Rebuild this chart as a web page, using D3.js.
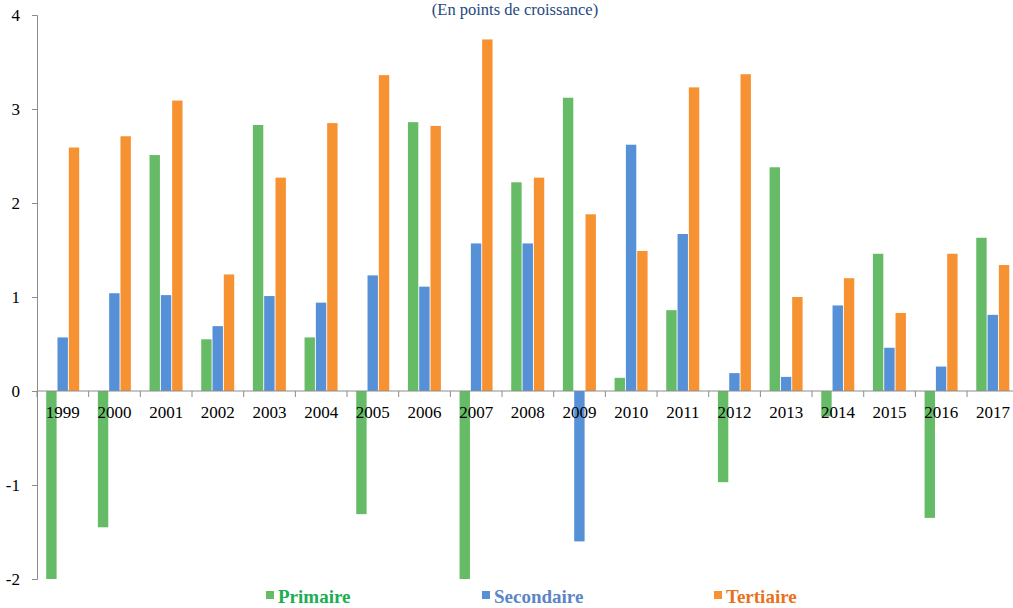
<!DOCTYPE html>
<html>
<head>
<meta charset="utf-8">
<script src="https://cdn.jsdelivr.net/npm/d3@7"></script>
<style>
  html, body { margin: 0; padding: 0; background: #fff; }
  svg { display: block; }
</style>
</head>
<body>
<svg id="chart" width="1013" height="608"></svg>
<script>
// Contributions à la croissance par secteur, 1999–2017
const years = ["1999","2000","2001","2002","2003","2004","2005","2006","2007","2008",
               "2009","2010","2011","2012","2013","2014","2015","2016","2017"];
const primaire   = [-2.0, -1.45, 2.51, 0.55, 2.83, 0.57, -1.31, 2.86, -2.0, 2.22,
                    3.12, 0.14, 0.86, -0.97, 2.38, -0.27, 1.46, -1.35, 1.63];
const secondaire = [0.57, 1.04, 1.02, 0.69, 1.01, 0.94, 1.23, 1.11, 1.57, 1.57,
                    -1.60, 2.62, 1.67, 0.19, 0.15, 0.91, 0.46, 0.26, 0.81];
const tertiaire  = [2.59, 2.71, 3.09, 1.24, 2.27, 2.85, 3.36, 2.82, 3.74, 2.27,
                    1.88, 1.49, 3.23, 3.37, 1.00, 1.20, 0.83, 1.46, 1.34];
const seriesNames = ["Primaire", "Secondaire", "Tertiaire"];
const yTicks = [-2, -1, 0, 1, 2, 3, 4];

const barColors  = { Primaire: "#66bb66", Secondaire: "#5690d6", Tertiaire: "#f79232" };
const textColors = { Primaire: "#1cae52", Secondaire: "#5b86c6", Tertiaire: "#e8711c" };

const seriesData = { Primaire: primaire, Secondaire: secondaire, Tertiaire: tertiaire };
const rows = years.map((y, i) => ({
  year: y,
  values: seriesNames.map(s => ({ series: s, value: seriesData[s][i] }))
}));

const svg = d3.select("#chart");
const left = 37, step = 51.67;
const x = d3.scaleBand().domain(years).range([left, left + step * years.length]).padding(0);
const xs = d3.scaleBand().domain(seriesNames).range([9.2, 42.2]).paddingInner(0.08);
const y = d3.scaleLinear().domain([-2, 4]).range([579, 15]);

const serif = "'Liberation Serif', 'Times New Roman', serif";
const axisColor = "#8c8c8c";

// Title
svg.append("text")
  .attr("x", 515).attr("y", 15)
  .attr("text-anchor", "middle")
  .attr("font-family", serif).attr("font-size", 16.5)
  .attr("fill", "#1f497d")
  .text("(En points de croissance)");

// Bars
const groups = svg.append("g").selectAll("g").data(rows).join("g")
  .attr("transform", d => `translate(${x(d.year)},0)`);
groups.selectAll("rect").data(d => d.values).join("rect")
  .attr("x", d => xs(d.series))
  .attr("width", xs.bandwidth())
  .attr("y", d => y(Math.max(0, d.value)))
  .attr("height", d => Math.abs(y(d.value) - y(0)))
  .attr("fill", d => barColors[d.series]);

// Y axis (plain hyphen for negatives)
const yAxis = svg.append("g")
  .attr("transform", `translate(${left},0)`)
  .call(d3.axisLeft(y).tickValues(yTicks).tickSize(5).tickPadding(12).tickFormat(d => String(d)));
yAxis.select(".domain").attr("stroke", axisColor);
yAxis.selectAll(".tick line").attr("stroke", axisColor);
yAxis.selectAll(".tick text")
  .attr("font-family", serif).attr("font-size", 17).attr("fill", "#000");

// X axis on the zero line: tick marks at band boundaries, labels centred on bands
const xAxis = svg.append("g").attr("transform", `translate(0,${y(0)})`);
xAxis.append("line")
  .attr("x1", left).attr("x2", left + step * years.length)
  .attr("stroke", axisColor);
xAxis.selectAll("line.t").data(years).join("line")
  .attr("class", "t")
  .attr("x1", d => x(d)).attr("x2", d => x(d))
  .attr("y1", 0).attr("y2", 6)
  .attr("stroke", axisColor);
xAxis.selectAll("text").data(years).join("text")
  .attr("x", d => x(d) + x.bandwidth() / 2)
  .attr("y", 27)
  .attr("text-anchor", "middle")
  .attr("font-family", serif).attr("font-size", 17).attr("fill", "#000")
  .text(d => d);

// Legend
const legendX = { Primaire: 266, Secondaire: 482, Tertiaire: 714 };
const legend = svg.append("g").selectAll("g").data(seriesNames).join("g")
  .attr("transform", d => `translate(${legendX[d]},0)`);
legend.append("rect")
  .attr("x", 0).attr("y", 591).attr("width", 8).attr("height", 8)
  .attr("fill", d => barColors[d]);
legend.append("text")
  .attr("x", 12).attr("y", 603)
  .attr("font-family", serif).attr("font-size", 19).attr("font-weight", "bold")
  .attr("fill", d => textColors[d])
  .text(d => d);
</script>
</body>
</html>
